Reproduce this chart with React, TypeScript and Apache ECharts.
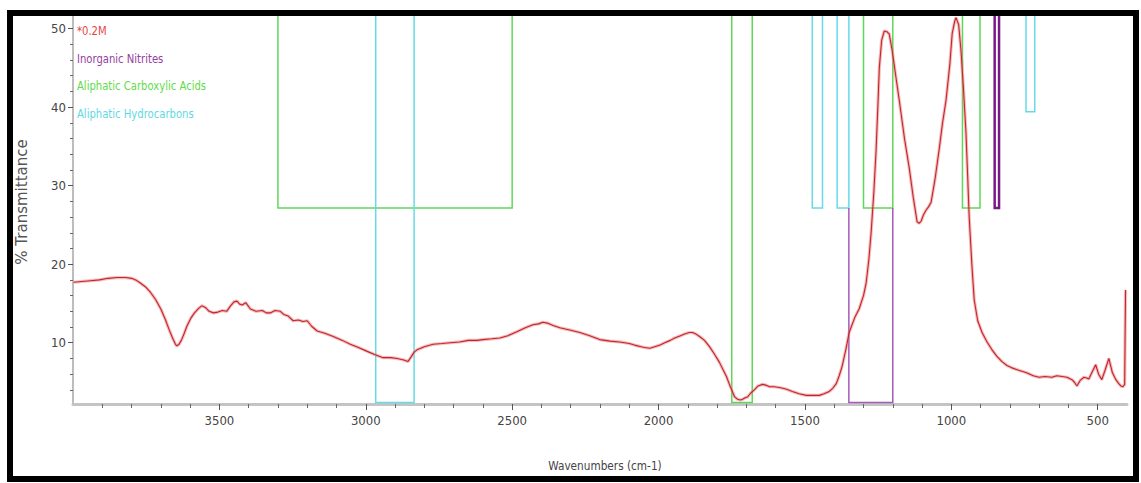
import React, { useEffect, useRef } from "react";
import * as echarts from "echarts";

// ---- Data -------------------------------------------------------------
const WAVENUMBERS = [
  3998, 3970, 3940, 3910, 3880, 3850, 3820, 3800, 3786, 3770, 3752, 3735, 3718, 3700, 3684, 3672,
  3660, 3650, 3645, 3638, 3630, 3620, 3610, 3598, 3585, 3570, 3560, 3548, 3535, 3520, 3505, 3490,
  3475, 3462, 3450, 3440, 3430, 3422, 3410, 3394, 3375, 3353, 3340, 3326, 3310, 3292, 3280, 3265,
  3248, 3230, 3215, 3200, 3185, 3166, 3140, 3111, 3080, 3053, 3025, 2995, 2970, 2941, 2915, 2893,
  2870, 2856, 2845, 2835, 2825, 2800, 2770, 2740, 2712, 2680, 2650, 2620, 2600, 2570, 2542, 2515,
  2484, 2455, 2429, 2410, 2395, 2380, 2360, 2337, 2300, 2269, 2235, 2201, 2165, 2133, 2100, 2082,
  2060, 2048, 2030, 2013, 1995, 1979, 1960, 1945, 1925, 1911, 1895, 1884, 1872, 1860, 1843, 1826,
  1810, 1792, 1780, 1768, 1758, 1748, 1740, 1730, 1720, 1713, 1704, 1696, 1685, 1673, 1660, 1645,
  1633, 1621, 1605, 1587, 1565, 1543, 1520, 1495, 1470, 1451, 1435, 1417, 1405, 1393, 1383, 1373,
  1360, 1349, 1330, 1315, 1300, 1291, 1282, 1274, 1265, 1257, 1250, 1246, 1238, 1229, 1220, 1212,
  1202, 1190, 1178, 1160, 1144, 1130, 1117, 1110, 1103, 1095, 1086, 1078, 1069, 1055, 1042, 1030,
  1018, 1005, 997, 988, 984, 975, 967, 958, 950, 944, 939, 930, 922, 910, 895, 878,
  861, 845, 827, 810, 793, 770, 745, 720, 701, 680, 656, 640, 622, 605, 588, 580,
  571, 560, 547, 538, 530, 520, 507, 497, 486, 475, 462, 450, 438, 428, 421, 414,
  408, 405,
];
const TRANSMITTANCE = [
  17.7, 17.8, 17.9, 18.0, 18.2, 18.3, 18.3, 18.2, 18.0, 17.6, 17.1, 16.4, 15.5, 14.3, 12.9, 11.7,
  10.6, 9.8, 9.6, 9.8, 10.3, 11.2, 12.2, 13.1, 13.8, 14.4, 14.7, 14.5, 14.0, 13.8, 13.9, 14.1,
  14.0, 14.7, 15.2, 15.3, 14.9, 14.8, 15.1, 14.3, 14.0, 14.1, 13.8, 13.8, 14.1, 14.0, 13.6, 13.4,
  12.8, 12.9, 12.7, 12.8, 12.1, 11.5, 11.2, 10.8, 10.3, 9.8, 9.4, 8.9, 8.5, 8.1, 8.1, 8.0,
  7.8, 7.6, 8.2, 8.8, 9.1, 9.5, 9.8, 9.9, 10.0, 10.1, 10.3, 10.3, 10.4, 10.5, 10.6, 10.9,
  11.4, 11.9, 12.3, 12.4, 12.6, 12.5, 12.2, 11.9, 11.6, 11.3, 10.9, 10.4, 10.2, 10.1, 9.9, 9.7,
  9.5, 9.4, 9.3, 9.5, 9.7, 10.0, 10.3, 10.6, 10.9, 11.1, 11.3, 11.3, 11.1, 10.8, 10.3, 9.5,
  8.6, 7.5, 6.6, 5.7, 4.7, 3.8, 3.1, 2.8, 2.7, 2.8, 3.0, 3.1, 3.6, 4.0, 4.5, 4.7,
  4.6, 4.4, 4.4, 4.3, 4.1, 3.8, 3.5, 3.3, 3.3, 3.3, 3.5, 3.8, 4.2, 4.8, 5.8, 7.0,
  9.2, 11.3, 13.2, 14.3, 16.0, 17.6, 20.5, 24.0, 29.0, 34.5, 41.0, 45.0, 48.5, 49.7, 49.6, 49.3,
  47.2, 44.0, 40.9, 36.0, 32.3, 28.5, 25.4, 25.2, 25.5, 26.3, 26.9, 27.3, 27.9, 31.0, 34.5, 38.0,
  40.9, 45.5, 49.4, 51.0, 51.4, 50.5, 47.2, 42.0, 36.7, 31.0, 26.0, 20.0, 15.5, 12.8, 11.3, 10.1,
  9.1, 8.3, 7.6, 7.1, 6.8, 6.5, 6.2, 5.8, 5.6, 5.7, 5.6, 5.8, 5.7, 5.6, 5.3, 5.0,
  4.5, 5.2, 5.6, 5.5, 5.4, 6.2, 7.2, 6.0, 5.3, 6.5, 8.0, 6.2, 5.3, 4.8, 4.5, 4.4,
  4.7, 16.7,
];

const X_MIN = 400;
const X_MAX = 4000;
const Y_MIN = 2.2;
const Y_MAX = 51.6;

const X_MAJOR_TICKS = [3500, 3000, 2500, 2000, 1500, 1000, 500];
const X_MINOR_TICKS = [
  3900, 3800, 3700, 3600, 3400, 3300, 3200, 3100, 2900, 2800, 2700, 2600, 2400, 2300, 2200, 2100,
  1900, 1800, 1700, 1600, 1400, 1300, 1200, 1100, 900, 800, 700, 600,
];
const Y_MAJOR_TICKS = [10, 20, 30, 40, 50];
const Y_MINOR_TICKS = [4, 6, 8, 12, 14, 16, 18, 22, 24, 26, 28, 32, 34, 36, 38, 42, 44, 46, 48];

// Library match regions: [wavenumber high, wavenumber low, bottom %T, top %T]
const CARBOXYLIC_ACID_BOXES = [
  [3300, 2500, 27.15, Y_MAX],
  [1750, 1680, 2.4, Y_MAX],
  [1300, 1200, 27.15, Y_MAX],
  [962, 902, 27.15, Y_MAX],
];
const HYDROCARBON_BOXES = [
  [2966, 2835, 2.4, Y_MAX],
  [1475, 1440, 27.15, Y_MAX],
  [1390, 1350, 27.15, Y_MAX],
  [745, 715, 39.4, Y_MAX],
];
const NITRITE_BOXES = [[1350, 1200, 2.4, 27.15]];
const NITRITE_DARK_BOXES = [[852, 837, 27.15, Y_MAX]];

const LEGEND_ITEMS = ["*0.2M", "Inorganic Nitrites", "Aliphatic Carboxylic Acids", "Aliphatic Hydrocarbons"];
const LEGEND_COLORS = ["#e8453f", "#96409f", "#62dc4c", "#5fd9e6"];

const NARROW = "'DejaVu Sans Condensed', 'Liberation Sans Narrow', 'Arial Narrow', sans-serif";

function boxSeries(name: string, rows: number[][], color: string, lineWidth: number) {
  return {
    type: "custom",
    name,
    silent: true,
    z: 2,
    data: rows,
    encode: { x: [0, 1], y: [2, 3] },
    renderItem: (_params: any, api: any) => {
      const x1 = api.value(0);
      const x2 = api.value(1);
      const b = api.value(2);
      const t = api.value(3);
      const p1 = api.coord([x1, t]);
      const p2 = api.coord([x1, b]);
      const p3 = api.coord([x2, b]);
      const p4 = api.coord([x2, t]);
      return {
        type: "polyline",
        shape: { points: [p1, p2, p3, p4] },
        style: { stroke: color, fill: "none", lineWidth },
      };
    },
  };
}

export default function App() {
  const ref = useRef<HTMLDivElement>(null);

  useEffect(() => {
    if (!ref.current) return;
    document.body.style.margin = "0";
    const chart = echarts.init(ref.current, null, { renderer: "svg" });
    const spectrum = WAVENUMBERS.map((w, i) => [w, TRANSMITTANCE[i]]);

    const axisLabelStyle = {
      color: "#444",
      fontFamily: NARROW,
      fontSize: 13,
      formatter: (v: number) => String(v),
    };

    chart.setOption({
      animation: false,
      backgroundColor: "#ffffff",
      grid: { left: 73, right: 14, top: 16, bottom: 79, containLabel: false },
      xAxis: [
        {
          type: "value",
          inverse: true,
          min: X_MIN,
          max: X_MAX,
          axisLine: { show: true, lineStyle: { color: "#c4c4c4", width: 3 } },
          axisTick: { show: true, customValues: X_MAJOR_TICKS, length: 6, lineStyle: { color: "#555", width: 1 } },
          axisLabel: { show: true, customValues: X_MAJOR_TICKS, margin: 10, ...axisLabelStyle },
          splitLine: { show: false },
        },
        {
          type: "value",
          inverse: true,
          position: "bottom",
          min: X_MIN,
          max: X_MAX,
          axisLine: { show: false },
          axisTick: { show: true, customValues: X_MINOR_TICKS, length: 4, lineStyle: { color: "#666", width: 1 } },
          axisLabel: { show: false },
          splitLine: { show: false },
        },
      ],
      yAxis: [
        {
          type: "value",
          min: Y_MIN,
          max: Y_MAX,
          axisLine: { show: true, lineStyle: { color: "#bdbdbd", width: 2 } },
          axisTick: { show: true, customValues: Y_MAJOR_TICKS, length: 5, lineStyle: { color: "#555", width: 1 } },
          axisLabel: { show: true, customValues: Y_MAJOR_TICKS, margin: 7, ...axisLabelStyle },
          splitLine: { show: false },
        },
        {
          type: "value",
          position: "left",
          min: Y_MIN,
          max: Y_MAX,
          axisLine: { show: false },
          axisTick: { show: true, customValues: Y_MINOR_TICKS, length: 3, lineStyle: { color: "#666", width: 1 } },
          axisLabel: { show: false },
          splitLine: { show: false },
        },
      ],
      series: [
        boxSeries("Aliphatic Carboxylic Acids", CARBOXYLIC_ACID_BOXES, "#5fd85a", 1.5),
        boxSeries("Aliphatic Hydrocarbons", HYDROCARBON_BOXES, "#66dbe6", 1.5),
        boxSeries("Inorganic Nitrites", NITRITE_BOXES, "#a45bb8", 1.5),
        boxSeries("Inorganic Nitrites dark", NITRITE_DARK_BOXES, "#7a1a86", 2.5),
        {
          type: "line",
          name: "*0.2M halo",
          data: spectrum,
          showSymbol: false,
          silent: true,
          z: 3,
          lineStyle: { color: "rgba(238,120,120,0.5)", width: 3.2 },
        },
        {
          type: "line",
          name: "*0.2M",
          data: spectrum,
          showSymbol: false,
          silent: true,
          z: 4,
          lineStyle: { color: "#c0262d", width: 1.1 },
        },
      ],
      graphic: [
        ...LEGEND_ITEMS.map((t, i) => ({
          type: "text",
          x: 77,
          y: 31 + i * 27.5,
          scaleX: 0.86,
          z: 10,
          style: { text: t, fill: LEGEND_COLORS[i], font: `13px ${NARROW}`, verticalAlign: "middle" },
        })),
        {
          type: "text",
          x: 22,
          y: 202,
          rotation: Math.PI / 2,
          z: 10,
          style: {
            text: "% Transmittance",
            fill: "#555",
            font: "15px 'DejaVu Sans', sans-serif",
            align: "center",
            verticalAlign: "middle",
          },
        },
        {
          type: "text",
          x: 605,
          y: 466,
          scaleX: 0.9,
          z: 10,
          style: {
            text: "Wavenumbers (cm-1)",
            fill: "#444",
            font: `13px ${NARROW}`,
            align: "center",
            verticalAlign: "middle",
          },
        },
        {
          type: "rect",
          z: 20,
          silent: true,
          shape: { x: 10, y: 13, width: 1126, height: 466 },
          style: { fill: "none", stroke: "#000", lineWidth: 6 },
        },
      ],
    });

    return () => chart.dispose();
  }, []);

  return <div ref={ref} style={{ position: "fixed", left: 0, top: 0, width: 1141, height: 483 }} />;
}
